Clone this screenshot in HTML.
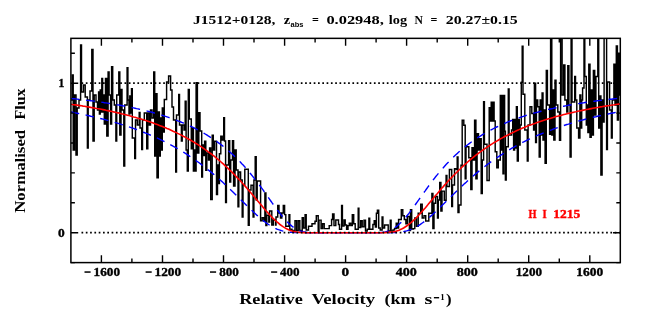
<!DOCTYPE html>
<html><head><meta charset="utf-8"><title>plot</title><style>
html,body{margin:0;padding:0;background:#fff}
body{width:654px;height:327px;overflow:hidden}
svg{display:block}
text{fill:#000;font-family:"Liberation Serif",serif;font-weight:bold}
.tk{font-size:12px;stroke:#000;stroke-width:.35px}
.ti{font-size:12.8px}
.sub{font-size:7.5px;font-family:"Liberation Sans",sans-serif}
.sup{font-size:9px}
.xl{font-size:15.2px}
.hl{font-size:12px;fill:#ff0000;stroke:#ff0000;stroke-width:.4px}
</style></head><body>
<svg width="654" height="327" viewBox="0 0 654 327" style="will-change:transform">
<rect width="100%" height="100%" fill="#fff"/>
<clipPath id="c"><rect x="70.9" y="38.4" width="549.4" height="224.3"/></clipPath>
<path d="M71.0 100.0 H72.2 V75.0 H73.2 V150.0 H74.5 V95.0 H76.0 V155.0 H77.2 V108.0 H79.0 V100.0 H80.6 V45.0 H81.5 V92.0 H83.5 V85.0 H85.2 V97.0 H87.4 V148.0 H88.2 V100.0 H90.0 V91.0 H91.8 V49.5 H93.0 V141.0 H94.2 V95.0 H96.0 V102.0 H97.5 V110.0 H98.6 V92.0 H99.4 V114.0 H100.2 V90.0 H101.0 V112.0 H101.8 V78.5 H102.6 V112.0 H103.3 V95.0 H104.3 V124.0 H105.5 V78.5 H106.8 V136.0 H108.1 V72.0 H109.1 V95.0 H110.6 V124.0 H111.6 V66.7 H112.7 V100.0 H114.3 V105.0 H115.9 V141.0 H116.7 V95.0 H118.8 V72.0 H119.8 V135.0 H121.0 V89.4 H122.0 V110.0 H123.8 V166.0 H124.7 V105.0 H127.1 V67.6 H127.9 V100.0 H129.0 V114.0 H129.8 V96.0 H130.6 V113.0 H131.5 V88.6 H132.3 V138.0 H134.7 V158.5 H135.5 V120.0 H137.3 V125.0 H139.2 V112.5 H140.0 V128.0 H141.7 V149.5 H142.5 V120.0 H144.3 V113.0 H146.7 V148.7 H147.8 V113.0 H149.3 V125.0 H150.5 V110.0 H152.0 V118.0 H153.7 V72.0 H154.7 V156.0 H155.9 V93.6 H157.0 V177.7 H158.3 V112.0 H159.4 V156.0 H160.3 V118.0 H161.3 V150.0 H162.3 V108.0 H163.4 V132.0 H164.3 V99.5 H166.6 V82.0 H168.6 V76.0 H170.6 V90.0 H172.0 V107.0 H173.5 V120.0 H175.7 V172.0 H176.5 V115.0 H178.7 V94.5 H179.5 V125.0 H181.4 V141.0 H182.2 V125.0 H184.0 V130.0 H185.2 V101.2 H186.1 V150.0 H187.3 V171.0 H188.3 V89.4 H189.3 V119.0 H191.3 V148.7 H192.1 V128.0 H193.4 V171.0 H194.2 V150.0 H195.1 V171.0 H196.1 V82.7 H197.4 V153.0 H198.8 V112.6 H200.0 V131.0 H201.7 V176.9 H202.5 V145.0 H203.6 V155.5 H204.6 V141.2 H205.8 V170.2 H206.8 V153.0 H208.5 V160.0 H209.6 V148.0 H210.7 V199.5 H212.2 V135.3 H213.3 V150.0 H214.6 V141.2 H216.5 V194.5 H217.5 V165.0 H218.6 V183.6 H219.4 V153.8 H220.8 V136.1 H222.2 V140.0 H223.7 V117.6 H224.5 V141.0 H225.6 V202.4 H226.4 V165.0 H228.6 V140.8 H229.7 V182.0 H230.7 V160.0 H232.5 V140.8 H233.6 V186.0 H235.0 V150.0 H236.2 V170.0 H238.0 V206.8 H238.8 V172.0 H240.6 V180.0 H242.2 V216.9 H243.0 V185.0 H244.8 V169.3 H248.3 V225.3 H249.2 V190.0 H251.0 V185.3 H253.1 V216.9 H253.9 V180.0 H255.2 V156.7 H256.2 V200.0 H257.2 V181.0 H260.6 V220.7 H262.2 V217.6 H263.8 V221.0 H264.9 V192.9 H265.9 V225.6 H266.8 V215.2 H268.8 V222.0 H269.6 V210.9 H271.8 V225.0 H273.3 V220.0 H275.5 V225.0 H276.0 V217.0 H277.7 V205.4 H279.0 V213.0 H280.5 V218.0 H281.8 V213.0 H283.3 V205.4 H284.6 V214.6 H285.8 V226.2 H289.0 V214.6 H289.8 V229.3 H292.0 V230.5 H295.0 V220.7 H296.6 V230.5 H298.2 V220.7 H299.8 V230.5 H302.2 V217.6 H303.4 V228.0 H305.1 V214.6 H306.2 V229.9 H308.5 V226.2 H312.0 V223.7 H315.0 V221.3 H316.3 V215.8 H318.2 V231.7 H319.0 V220.1 H321.1 V228.6 H322.6 V223.7 H324.2 V228.6 H329.2 V225.6 H331.6 V219.5 H332.6 V214.0 H334.0 V225.6 H335.8 V220.0 H338.5 V224.4 H339.5 V229.3 H341.6 V205.4 H342.4 V226.0 H344.0 V220.0 H345.2 V225.0 H346.6 V229.3 H348.0 V225.6 H349.3 V223.1 H350.8 V225.6 H352.3 V214.6 H353.7 V223.7 H355.2 V229.3 H358.2 V208.2 H358.9 V227.4 H360.7 V220.7 H362.2 V226.8 H364.0 V220.1 H365.5 V231.0 H367.2 V229.3 H368.9 V218.2 H369.7 V229.3 H372.9 V224.4 H374.2 V220.7 H375.4 V227.0 H376.4 V213.3 H377.4 V210.3 H378.7 V228.0 H380.2 V229.9 H382.1 V217.0 H382.9 V228.0 H384.6 V225.0 H388.2 V231.0 H390.3 V220.1 H391.1 V231.0 H393.0 V229.9 H394.5 V228.6 H396.2 V223.1 H397.4 V228.0 H398.6 V219.5 H401.3 V209.7 H402.8 V215.8 H404.3 V219.5 H405.9 V223.7 H407.4 V216.4 H409.4 V230.5 H410.5 V209.7 H411.7 V229.0 H413.4 V228.6 H414.8 V217.9 H416.5 V226.3 H418.2 V213.3 H420.7 V204.1 H422.2 V217.9 H424.0 V215.6 H425.7 V221.0 H428.8 V213.3 H431.9 V193.4 H432.9 V228.6 H434.0 V203.3 H435.6 V196.5 H437.5 V217.9 H438.3 V200.0 H439.7 V182.4 H440.9 V211.0 H442.0 V191.1 H444.3 V200.3 H446.1 V175.5 H446.9 V186.5 H449.4 V169.4 H451.7 V206.4 H452.5 V185.0 H454.5 V168.6 H456.1 V169.5 H457.2 V156.9 H458.0 V212.5 H459.0 V204.9 H461.0 V165.3 H462.2 V120.3 H463.8 V125.3 H465.2 V178.7 H466.0 V146.8 H468.8 V157.7 H470.8 V189.6 H472.0 V147.6 H473.4 V160.0 H474.6 V120.3 H475.9 V178.7 H477.1 V133.7 H478.5 V150.0 H479.9 V138.8 H481.2 V193.4 H482.3 V160.0 H483.6 V101.8 H484.4 V144.3 H487.0 V180.4 H489.2 V107.7 H490.1 V121.0 H491.2 V102.1 H492.2 V121.0 H493.2 V102.1 H494.1 V121.0 H495.2 V151.8 H496.8 V167.8 H498.3 V160.0 H500.3 V95.4 H501.2 V150.0 H502.1 V95.4 H503.0 V173.7 H503.8 V95.4 H504.6 V131.2 H505.4 V180.0 H506.2 V146.8 H508.3 V89.0 H509.1 V135.0 H511.6 V130.0 H512.7 V119.4 H513.6 V150.0 H514.6 V119.4 H515.5 V148.0 H516.4 V106.8 H517.3 V161.0 H518.3 V119.4 H519.3 V145.0 H520.1 V125.0 H521.3 V82.3 H522.2 V46.1 H523.0 V94.2 H524.8 V130.0 H527.3 V161.0 H528.1 V125.0 H530.0 V106.8 H531.8 V113.5 H533.6 V130.0 H534.4 V83.1 H535.6 V142.6 H536.4 V100.0 H537.7 V106.8 H539.2 V156.9 H540.2 V100.0 H541.1 V135.0 H542.1 V93.0 H543.0 V140.0 H544.0 V110.0 H545.1 V163.2 H546.3 V70.4 H547.4 V105.0 H549.6 V134.2 H550.6 V30.0 H551.8 V135.0 H552.8 V90.0 H553.8 V140.0 H555.0 V80.3 H556.0 V105.0 H557.8 V112.0 H559.5 V140.3 H560.6 V30.0 H562.1 V95.0 H563.7 V65.0 H564.9 V100.0 H566.8 V112.0 H567.8 V65.8 H568.9 V105.0 H570.1 V157.1 H571.1 V30.0 H572.0 V102.0 H574.7 V76.5 H575.5 V100.0 H576.8 V128.0 H578.6 V138.0 H579.9 V95.0 H580.8 V128.0 H581.7 V100.0 H582.6 V88.0 H584.0 V30.0 H584.8 V76.5 H586.3 V125.0 H587.1 V105.0 H587.9 V132.6 H588.8 V64.3 H590.0 V137.2 H591.2 V90.0 H592.3 V135.0 H593.4 V70.4 H594.7 V115.0 H595.9 V76.5 H597.8 V30.0 H598.7 V128.0 H599.8 V96.0 H600.9 V174.9 H602.1 V100.0 H603.2 V122.0 H604.1 V30.0 H606.6 V149.5 H607.4 V81.9 H609.6 V110.0 H611.4 V138.0 H612.2 V100.0 H613.9 V64.3 H615.0 V105.0 H616.3 V45.9 H617.4 V120.0 H618.5 V54.3 H619.3 V95.0 H621.0 V95.0" fill="none" stroke="#000" stroke-width="1.45" stroke-linejoin="miter" clip-path="url(#c)"/>
<path d="M70.9 98.4 L72.4 98.6 L74.0 98.7 L75.5 98.9 L77.0 99.1 L78.5 99.3 L80.1 99.4 L81.6 99.6 L83.1 99.8 L84.6 100.0 L86.2 100.2 L87.7 100.4 L89.2 100.5 L90.7 100.7 L92.3 100.9 L93.8 101.1 L95.3 101.4 L96.8 101.6 L98.4 101.8 L99.9 102.0 L101.4 102.2 L102.9 102.4 L104.5 102.7 L106.0 102.9 L107.5 103.1 L109.1 103.4 L110.6 103.6 L112.1 103.9 L113.6 104.1 L115.2 104.4 L116.7 104.7 L118.2 104.9 L119.7 105.2 L121.3 105.5 L122.8 105.8 L124.3 106.0 L125.8 106.3 L127.4 106.6 L128.9 106.9 L130.4 107.3 L131.9 107.6 L133.5 107.9 L135.0 108.2 L136.5 108.6 L138.0 108.9 L139.6 109.3 L141.1 109.6 L142.6 110.0 L144.2 110.3 L145.7 110.7 L147.2 111.1 L148.7 111.5 L150.3 111.9 L151.8 112.3 L153.3 112.7 L154.8 113.2 L156.4 113.6 L157.9 114.0 L159.4 114.5 L160.9 114.9 L162.5 115.4 L164.0 115.9 L165.5 116.4 L167.0 116.9 L168.6 117.4 L170.1 117.9 L171.6 118.5 L173.1 119.0 L174.7 119.6 L176.2 120.2 L177.7 120.8 L179.3 121.4 L180.8 122.0 L182.3 122.6 L183.8 123.2 L185.4 123.9 L186.9 124.6 L188.4 125.3 L189.9 126.0 L191.5 126.7 L193.0 127.4 L194.5 128.2 L196.0 129.0 L197.6 129.8 L199.1 130.6 L200.6 131.4 L202.1 132.3 L203.7 133.1 L205.2 134.0 L206.7 134.9 L208.2 135.9 L209.8 136.8 L211.3 137.8 L212.8 138.8 L214.4 139.9 L215.9 140.9 L217.4 142.0 L218.9 143.1 L220.5 144.3 L222.0 145.4 L223.5 146.6 L225.0 147.9 L226.6 149.1 L228.1 150.4 L229.6 151.8 L231.1 153.1 L232.7 154.5 L234.2 155.9 L235.7 157.4 L237.2 158.9 L238.8 160.5 L240.3 162.0 L241.8 163.7 L243.4 165.3 L244.9 167.0 L246.4 168.7 L247.9 170.5 L249.5 172.3 L251.0 174.2 L252.5 176.1 L254.0 178.0 L255.6 179.9 L257.1 181.9 L258.6 184.0 L260.1 186.0 L261.7 188.1 L263.2 190.2 L264.7 192.4 L266.2 194.5 L267.8 196.7 L269.3 198.9 L270.8 201.0 L272.3 203.2 L273.9 205.3 L275.4 207.4 L276.9 209.5 L278.5 211.5 L280.0 213.5 L281.5 215.4 L283.0 217.3 L284.6 219.0 L286.1 220.7 L287.6 222.3 L289.1 223.8 L290.7 225.1 L292.2 226.4 L293.7 227.5 L295.2 228.5 L296.8 229.4 L298.3 230.2 L299.8 230.8 L301.3 231.3 L302.9 231.7 L304.4 232.0 L305.9 232.3 L307.4 232.4 L309.0 232.6 L310.5 232.6 L312.0 232.7 L313.6 232.7 L315.1 232.7 L316.6 232.7 L318.1 232.7 L319.7 232.7 L321.2 232.7 L322.7 232.7 L324.2 232.7 L325.8 232.7 L327.3 232.7 L328.8 232.7 L330.3 232.7 L331.9 232.7 L333.4 232.7 L334.9 232.7 L336.4 232.7 L338.0 232.7 L339.5 232.7 L341.0 232.7 L342.5 232.7 L344.1 232.7" fill="none" stroke="#0000ff" stroke-width="1.4" stroke-dasharray="8.7 6.65"/>
<path d="M344.1 232.7 L345.6 232.7 L347.1 232.7 L348.7 232.7 L350.2 232.7 L351.7 232.7 L353.2 232.7 L354.8 232.7 L356.3 232.7 L357.8 232.7 L359.3 232.7 L360.9 232.7 L362.4 232.7 L363.9 232.7 L365.4 232.7 L367.0 232.7 L368.5 232.7 L370.0 232.7 L371.5 232.7 L373.1 232.7 L374.6 232.7 L376.1 232.7 L377.6 232.6 L379.2 232.6 L380.7 232.5 L382.2 232.4 L383.8 232.1 L385.3 231.9 L386.8 231.5 L388.3 231.0 L389.9 230.4 L391.4 229.7 L392.9 228.9 L394.4 227.9 L396.0 226.9 L397.5 225.7 L399.0 224.3 L400.5 222.9 L402.1 221.4 L403.6 219.7 L405.1 218.0 L406.6 216.2 L408.2 214.3 L409.7 212.3 L411.2 210.3 L412.7 208.2 L414.3 206.1 L415.8 204.0 L417.3 201.9 L418.9 199.7 L420.4 197.6 L421.9 195.4 L423.4 193.2 L425.0 191.1 L426.5 189.0 L428.0 186.9 L429.5 184.8 L431.1 182.8 L432.6 180.7 L434.1 178.8 L435.6 176.8 L437.2 174.9 L438.7 173.1 L440.2 171.2 L441.7 169.4 L443.3 167.7 L444.8 166.0 L446.3 164.3 L447.8 162.7 L449.4 161.1 L450.9 159.5 L452.4 158.0 L454.0 156.5 L455.5 155.1 L457.0 153.7 L458.5 152.3 L460.1 151.0 L461.6 149.7 L463.1 148.4 L464.6 147.1 L466.2 145.9 L467.7 144.7 L469.2 143.6 L470.7 142.5 L472.3 141.4 L473.8 140.3 L475.3 139.2 L476.8 138.2 L478.4 137.2 L479.9 136.3 L481.4 135.3 L482.9 134.4 L484.5 133.5 L486.0 132.6 L487.5 131.7 L489.1 130.9 L490.6 130.1 L492.1 129.3 L493.6 128.5 L495.2 127.7 L496.7 127.0 L498.2 126.3 L499.7 125.5 L501.3 124.9 L502.8 124.2 L504.3 123.5 L505.8 122.9 L507.4 122.2 L508.9 121.6 L510.4 121.0 L511.9 120.4 L513.5 119.8 L515.0 119.3 L516.5 118.7 L518.1 118.2 L519.6 117.6 L521.1 117.1 L522.6 116.6 L524.2 116.1 L525.7 115.6 L527.2 115.1 L528.7 114.7 L530.3 114.2 L531.8 113.8 L533.3 113.3 L534.8 112.9 L536.4 112.5 L537.9 112.1 L539.4 111.7 L540.9 111.3 L542.5 110.9 L544.0 110.5 L545.5 110.1 L547.0 109.8 L548.6 109.4 L550.1 109.0 L551.6 108.7 L553.2 108.4 L554.7 108.0 L556.2 107.7 L557.7 107.4 L559.3 107.1 L560.8 106.8 L562.3 106.5 L563.8 106.2 L565.4 105.9 L566.9 105.6 L568.4 105.3 L569.9 105.0 L571.5 104.8 L573.0 104.5 L574.5 104.2 L576.0 104.0 L577.6 103.7 L579.1 103.5 L580.6 103.2 L582.1 103.0 L583.7 102.8 L585.2 102.5 L586.7 102.3 L588.3 102.1 L589.8 101.9 L591.3 101.6 L592.8 101.4 L594.4 101.2 L595.9 101.0 L597.4 100.8 L598.9 100.6 L600.5 100.4 L602.0 100.2 L603.5 100.0 L605.0 99.9 L606.6 99.7 L608.1 99.5 L609.6 99.3 L611.1 99.2 L612.7 99.0 L614.2 98.8 L615.7 98.6 L617.2 98.5 L618.8 98.3 L620.3 98.2" fill="none" stroke="#0000ff" stroke-width="1.4" stroke-dasharray="8.7 6.65" stroke-dashoffset="9.89"/>
<path d="M70.9 112.0 L72.4 112.3 L74.0 112.6 L75.5 112.9 L77.0 113.2 L78.5 113.5 L80.1 113.8 L81.6 114.2 L83.1 114.5 L84.6 114.8 L86.2 115.1 L87.7 115.5 L89.2 115.8 L90.7 116.2 L92.3 116.5 L93.8 116.9 L95.3 117.2 L96.8 117.6 L98.4 118.0 L99.9 118.4 L101.4 118.7 L102.9 119.1 L104.5 119.5 L106.0 119.9 L107.5 120.3 L109.1 120.8 L110.6 121.2 L112.1 121.6 L113.6 122.0 L115.2 122.5 L116.7 122.9 L118.2 123.4 L119.7 123.9 L121.3 124.3 L122.8 124.8 L124.3 125.3 L125.8 125.8 L127.4 126.3 L128.9 126.8 L130.4 127.3 L131.9 127.9 L133.5 128.4 L135.0 129.0 L136.5 129.5 L138.0 130.1 L139.6 130.7 L141.1 131.3 L142.6 131.9 L144.2 132.5 L145.7 133.1 L147.2 133.7 L148.7 134.3 L150.3 135.0 L151.8 135.6 L153.3 136.3 L154.8 137.0 L156.4 137.7 L157.9 138.4 L159.4 139.1 L160.9 139.8 L162.5 140.6 L164.0 141.3 L165.5 142.1 L167.0 142.9 L168.6 143.7 L170.1 144.5 L171.6 145.3 L173.1 146.2 L174.7 147.0 L176.2 147.9 L177.7 148.8 L179.3 149.7 L180.8 150.6 L182.3 151.5 L183.8 152.4 L185.4 153.4 L186.9 154.4 L188.4 155.4 L189.9 156.4 L191.5 157.4 L193.0 158.5 L194.5 159.5 L196.0 160.6 L197.6 161.7 L199.1 162.8 L200.6 163.9 L202.1 165.1 L203.7 166.2 L205.2 167.4 L206.7 168.6 L208.2 169.9 L209.8 171.1 L211.3 172.4 L212.8 173.6 L214.4 174.9 L215.9 176.2 L217.4 177.6 L218.9 178.9 L220.5 180.3 L222.0 181.6 L223.5 183.0 L225.0 184.4 L226.6 185.9 L228.1 187.3 L229.6 188.8 L231.1 190.2 L232.7 191.7 L234.2 193.2 L235.7 194.7 L237.2 196.2 L238.8 197.7 L240.3 199.2 L241.8 200.7 L243.4 202.2 L244.9 203.7 L246.4 205.2 L247.9 206.7 L249.5 208.2 L251.0 209.7 L252.5 211.1 L254.0 212.6 L255.6 214.0 L257.1 215.4 L258.6 216.7 L260.1 218.1 L261.7 219.3 L263.2 220.6 L264.7 221.8 L266.2 222.9 L267.8 224.0 L269.3 225.0 L270.8 225.9 L272.3 226.8 L273.9 227.6 L275.4 228.4 L276.9 229.1 L278.5 229.7 L280.0 230.2 L281.5 230.7 L283.0 231.1 L284.6 231.4 L286.1 231.7 L287.6 232.0 L289.1 232.2 L290.7 232.3 L292.2 232.4 L293.7 232.5 L295.2 232.6 L296.8 232.6 L298.3 232.7 L299.8 232.7 L301.3 232.7 L302.9 232.7 L304.4 232.7 L305.9 232.7 L307.4 232.7 L309.0 232.7 L310.5 232.7 L312.0 232.7 L313.6 232.7 L315.1 232.7 L316.6 232.7 L318.1 232.7 L319.7 232.7 L321.2 232.7 L322.7 232.7 L324.2 232.7 L325.8 232.7 L327.3 232.7 L328.8 232.7 L330.3 232.7 L331.9 232.7 L333.4 232.7 L334.9 232.7 L336.4 232.7 L338.0 232.7 L339.5 232.7 L341.0 232.7 L342.5 232.7 L344.1 232.7" fill="none" stroke="#0000ff" stroke-width="1.4" stroke-dasharray="8.5 6.5"/>
<path d="M344.1 232.7 L345.6 232.7 L347.1 232.7 L348.7 232.7 L350.2 232.7 L351.7 232.7 L353.2 232.7 L354.8 232.7 L356.3 232.7 L357.8 232.7 L359.3 232.7 L360.9 232.7 L362.4 232.7 L363.9 232.7 L365.4 232.7 L367.0 232.7 L368.5 232.7 L370.0 232.7 L371.5 232.7 L373.1 232.7 L374.6 232.7 L376.1 232.7 L377.6 232.7 L379.2 232.7 L380.7 232.7 L382.2 232.7 L383.8 232.7 L385.3 232.7 L386.8 232.7 L388.3 232.7 L389.9 232.7 L391.4 232.6 L392.9 232.6 L394.4 232.5 L396.0 232.5 L397.5 232.4 L399.0 232.2 L400.5 232.1 L402.1 231.8 L403.6 231.6 L405.1 231.2 L406.6 230.9 L408.2 230.4 L409.7 229.9 L411.2 229.3 L412.7 228.7 L414.3 227.9 L415.8 227.2 L417.3 226.3 L418.9 225.4 L420.4 224.4 L421.9 223.3 L423.4 222.2 L425.0 221.1 L426.5 219.8 L428.0 218.6 L429.5 217.3 L431.1 215.9 L432.6 214.6 L434.1 213.1 L435.6 211.7 L437.2 210.3 L438.7 208.8 L440.2 207.3 L441.7 205.8 L443.3 204.3 L444.8 202.8 L446.3 201.3 L447.8 199.8 L449.4 198.3 L450.9 196.8 L452.4 195.3 L454.0 193.8 L455.5 192.3 L457.0 190.8 L458.5 189.3 L460.1 187.9 L461.6 186.4 L463.1 185.0 L464.6 183.6 L466.2 182.2 L467.7 180.8 L469.2 179.4 L470.7 178.1 L472.3 176.8 L473.8 175.4 L475.3 174.1 L476.8 172.9 L478.4 171.6 L479.9 170.3 L481.4 169.1 L482.9 167.9 L484.5 166.7 L486.0 165.5 L487.5 164.4 L489.1 163.3 L490.6 162.1 L492.1 161.0 L493.6 159.9 L495.2 158.9 L496.7 157.8 L498.2 156.8 L499.7 155.8 L501.3 154.8 L502.8 153.8 L504.3 152.8 L505.8 151.9 L507.4 150.9 L508.9 150.0 L510.4 149.1 L511.9 148.2 L513.5 147.4 L515.0 146.5 L516.5 145.7 L518.1 144.8 L519.6 144.0 L521.1 143.2 L522.6 142.4 L524.2 141.7 L525.7 140.9 L527.2 140.1 L528.7 139.4 L530.3 138.7 L531.8 138.0 L533.3 137.3 L534.8 136.6 L536.4 135.9 L537.9 135.2 L539.4 134.6 L540.9 134.0 L542.5 133.3 L544.0 132.7 L545.5 132.1 L547.0 131.5 L548.6 130.9 L550.1 130.3 L551.6 129.8 L553.2 129.2 L554.7 128.6 L556.2 128.1 L557.7 127.6 L559.3 127.0 L560.8 126.5 L562.3 126.0 L563.8 125.5 L565.4 125.0 L566.9 124.5 L568.4 124.1 L569.9 123.6 L571.5 123.1 L573.0 122.7 L574.5 122.2 L576.0 121.8 L577.6 121.4 L579.1 120.9 L580.6 120.5 L582.1 120.1 L583.7 119.7 L585.2 119.3 L586.7 118.9 L588.3 118.5 L589.8 118.1 L591.3 117.7 L592.8 117.4 L594.4 117.0 L595.9 116.7 L597.4 116.3 L598.9 115.9 L600.5 115.6 L602.0 115.3 L603.5 114.9 L605.0 114.6 L606.6 114.3 L608.1 114.0 L609.6 113.6 L611.1 113.3 L612.7 113.0 L614.2 112.7 L615.7 112.4 L617.2 112.1 L618.8 111.9 L620.3 111.6" fill="none" stroke="#0000ff" stroke-width="1.4" stroke-dasharray="8.5 6.5" stroke-dashoffset="0.76"/>
<path d="M70.9 104.2 L72.4 104.5 L74.0 104.7 L75.5 104.9 L77.0 105.1 L78.5 105.4 L80.1 105.6 L81.6 105.8 L83.1 106.1 L84.6 106.3 L86.2 106.6 L87.7 106.8 L89.2 107.1 L90.7 107.4 L92.3 107.6 L93.8 107.9 L95.3 108.2 L96.8 108.5 L98.4 108.7 L99.9 109.0 L101.4 109.3 L102.9 109.6 L104.5 109.9 L106.0 110.3 L107.5 110.6 L109.1 110.9 L110.6 111.2 L112.1 111.5 L113.6 111.9 L115.2 112.2 L116.7 112.6 L118.2 112.9 L119.7 113.3 L121.3 113.7 L122.8 114.0 L124.3 114.4 L125.8 114.8 L127.4 115.2 L128.9 115.6 L130.4 116.0 L131.9 116.4 L133.5 116.9 L135.0 117.3 L136.5 117.7 L138.0 118.2 L139.6 118.6 L141.1 119.1 L142.6 119.6 L144.2 120.0 L145.7 120.5 L147.2 121.0 L148.7 121.5 L150.3 122.1 L151.8 122.6 L153.3 123.1 L154.8 123.7 L156.4 124.2 L157.9 124.8 L159.4 125.4 L160.9 126.0 L162.5 126.6 L164.0 127.2 L165.5 127.8 L167.0 128.5 L168.6 129.1 L170.1 129.8 L171.6 130.5 L173.1 131.2 L174.7 131.9 L176.2 132.6 L177.7 133.4 L179.3 134.1 L180.8 134.9 L182.3 135.7 L183.8 136.5 L185.4 137.3 L186.9 138.1 L188.4 139.0 L189.9 139.8 L191.5 140.7 L193.0 141.6 L194.5 142.5 L196.0 143.5 L197.6 144.4 L199.1 145.4 L200.6 146.4 L202.1 147.4 L203.7 148.5 L205.2 149.6 L206.7 150.6 L208.2 151.8 L209.8 152.9 L211.3 154.0 L212.8 155.2 L214.4 156.4 L215.9 157.7 L217.4 158.9 L218.9 160.2 L220.5 161.5 L222.0 162.8 L223.5 164.2 L225.0 165.6 L226.6 167.0 L228.1 168.4 L229.6 169.9 L231.1 171.3 L232.7 172.9 L234.2 174.4 L235.7 176.0 L237.2 177.6 L238.8 179.2 L240.3 180.8 L241.8 182.5 L243.4 184.2 L244.9 185.9 L246.4 187.6 L247.9 189.4 L249.5 191.2 L251.0 192.9 L252.5 194.7 L254.0 196.6 L255.6 198.4 L257.1 200.2 L258.6 202.0 L260.1 203.8 L261.7 205.6 L263.2 207.4 L264.7 209.2 L266.2 211.0 L267.8 212.7 L269.3 214.4 L270.8 216.0 L272.3 217.6 L273.9 219.1 L275.4 220.5 L276.9 221.9 L278.5 223.2 L280.0 224.5 L281.5 225.6 L283.0 226.7 L284.6 227.6 L286.1 228.5 L287.6 229.2 L289.1 229.9 L290.7 230.5 L292.2 231.0 L293.7 231.4 L295.2 231.7 L296.8 232.0 L298.3 232.2 L299.8 232.4 L301.3 232.5 L302.9 232.6 L304.4 232.6 L305.9 232.7 L307.4 232.7 L309.0 232.7 L310.5 232.7 L312.0 232.7 L313.6 232.7 L315.1 232.7 L316.6 232.7 L318.1 232.7 L319.7 232.7 L321.2 232.7 L322.7 232.7 L324.2 232.7 L325.8 232.7 L327.3 232.7 L328.8 232.7 L330.3 232.7 L331.9 232.7 L333.4 232.7 L334.9 232.7 L336.4 232.7 L338.0 232.7 L339.5 232.7 L341.0 232.7 L342.5 232.7 L344.1 232.7 L345.6 232.7 L347.1 232.7 L348.7 232.7 L350.2 232.7 L351.7 232.7 L353.2 232.7 L354.8 232.7 L356.3 232.7 L357.8 232.7 L359.3 232.7 L360.9 232.7 L362.4 232.7 L363.9 232.7 L365.4 232.7 L367.0 232.7 L368.5 232.7 L370.0 232.7 L371.5 232.7 L373.1 232.7 L374.6 232.7 L376.1 232.7 L377.6 232.7 L379.2 232.7 L380.7 232.7 L382.2 232.7 L383.8 232.6 L385.3 232.6 L386.8 232.5 L388.3 232.4 L389.9 232.3 L391.4 232.1 L392.9 231.9 L394.4 231.6 L396.0 231.2 L397.5 230.7 L399.0 230.2 L400.5 229.5 L402.1 228.8 L403.6 228.0 L405.1 227.0 L406.6 226.0 L408.2 224.9 L409.7 223.7 L411.2 222.5 L412.7 221.1 L414.3 219.7 L415.8 218.2 L417.3 216.6 L418.9 215.0 L420.4 213.4 L421.9 211.7 L423.4 209.9 L425.0 208.2 L426.5 206.4 L428.0 204.6 L429.5 202.7 L431.1 200.9 L432.6 199.1 L434.1 197.3 L435.6 195.5 L437.2 193.7 L438.7 191.9 L440.2 190.1 L441.7 188.3 L443.3 186.6 L444.8 184.9 L446.3 183.2 L447.8 181.5 L449.4 179.8 L450.9 178.2 L452.4 176.6 L454.0 175.0 L455.5 173.5 L457.0 172.0 L458.5 170.5 L460.1 169.0 L461.6 167.5 L463.1 166.1 L464.6 164.7 L466.2 163.4 L467.7 162.0 L469.2 160.7 L470.7 159.4 L472.3 158.2 L473.8 156.9 L475.3 155.7 L476.8 154.5 L478.4 153.3 L479.9 152.2 L481.4 151.1 L482.9 150.0 L484.5 148.9 L486.0 147.9 L487.5 146.8 L489.1 145.8 L490.6 144.8 L492.1 143.9 L493.6 142.9 L495.2 142.0 L496.7 141.1 L498.2 140.2 L499.7 139.3 L501.3 138.4 L502.8 137.6 L504.3 136.8 L505.8 136.0 L507.4 135.2 L508.9 134.4 L510.4 133.7 L511.9 132.9 L513.5 132.2 L515.0 131.5 L516.5 130.8 L518.1 130.1 L519.6 129.4 L521.1 128.7 L522.6 128.1 L524.2 127.5 L525.7 126.8 L527.2 126.2 L528.7 125.6 L530.3 125.0 L531.8 124.5 L533.3 123.9 L534.8 123.4 L536.4 122.8 L537.9 122.3 L539.4 121.8 L540.9 121.2 L542.5 120.7 L544.0 120.2 L545.5 119.8 L547.0 119.3 L548.6 118.8 L550.1 118.4 L551.6 117.9 L553.2 117.5 L554.7 117.0 L556.2 116.6 L557.7 116.2 L559.3 115.8 L560.8 115.4 L562.3 115.0 L563.8 114.6 L565.4 114.2 L566.9 113.8 L568.4 113.4 L569.9 113.1 L571.5 112.7 L573.0 112.4 L574.5 112.0 L576.0 111.7 L577.6 111.3 L579.1 111.0 L580.6 110.7 L582.1 110.4 L583.7 110.1 L585.2 109.8 L586.7 109.5 L588.3 109.2 L589.8 108.9 L591.3 108.6 L592.8 108.3 L594.4 108.0 L595.9 107.7 L597.4 107.5 L598.9 107.2 L600.5 106.9 L602.0 106.7 L603.5 106.4 L605.0 106.2 L606.6 105.9 L608.1 105.7 L609.6 105.5 L611.1 105.2 L612.7 105.0 L614.2 104.8 L615.7 104.5 L617.2 104.3 L618.8 104.1 L620.3 103.9" fill="none" stroke="#ff0000" stroke-width="1.6"/>
<line x1="81.5" y1="232.70" x2="620.3" y2="232.70" stroke="#000" stroke-width="1.7" stroke-dasharray="1.7 2.6"/>
<line x1="81.5" y1="83.20" x2="620.3" y2="83.20" stroke="#000" stroke-width="1.7" stroke-dasharray="1.7 2.6"/>
<rect x="70.9" y="38.35" width="549.4" height="224.25" fill="none" stroke="#000" stroke-width="1.5"/>
<path d="M101.4 38.4 v7.3 M101.4 262.6 v-7.3 M131.9 38.4 v4.0 M131.9 262.6 v-4.0 M162.5 38.4 v7.3 M162.5 262.6 v-7.3 M193.0 38.4 v4.0 M193.0 262.6 v-4.0 M223.5 38.4 v7.3 M223.5 262.6 v-7.3 M254.0 38.4 v4.0 M254.0 262.6 v-4.0 M284.6 38.4 v7.3 M284.6 262.6 v-7.3 M315.1 38.4 v4.0 M315.1 262.6 v-4.0 M345.6 38.4 v7.3 M345.6 262.6 v-7.3 M376.1 38.4 v4.0 M376.1 262.6 v-4.0 M406.6 38.4 v7.3 M406.6 262.6 v-7.3 M437.2 38.4 v4.0 M437.2 262.6 v-4.0 M467.7 38.4 v7.3 M467.7 262.6 v-7.3 M498.2 38.4 v4.0 M498.2 262.6 v-4.0 M528.7 38.4 v7.3 M528.7 262.6 v-7.3 M559.3 38.4 v4.0 M559.3 262.6 v-4.0 M589.8 38.4 v7.3 M589.8 262.6 v-7.3 M70.9 262.6 h4.0 M620.3 262.6 h-4.0 M70.9 232.7 h7.3 M620.3 232.7 h-7.3 M70.9 202.8 h4.0 M620.3 202.8 h-4.0 M70.9 172.9 h4.0 M620.3 172.9 h-4.0 M70.9 143.0 h4.0 M620.3 143.0 h-4.0 M70.9 113.1 h4.0 M620.3 113.1 h-4.0 M70.9 83.2 h7.3 M620.3 83.2 h-7.3 M70.9 53.3 h4.0 M620.3 53.3 h-4.0" stroke="#000" stroke-width="1.4" fill="none"/>
<rect x="84.5" y="271.3" width="6.1" height="1.5" fill="#000"/>
<rect x="145.6" y="271.3" width="6.1" height="1.5" fill="#000"/>
<rect x="210.0" y="271.3" width="6.1" height="1.5" fill="#000"/>
<rect x="271.1" y="271.3" width="6.1" height="1.5" fill="#000"/>
<text x="93.6" y="276.2" textLength="26.4" lengthAdjust="spacingAndGlyphs" class="tk">1600</text>
<text x="154.5" y="276.2" textLength="26.7" lengthAdjust="spacingAndGlyphs" class="tk">1200</text>
<text x="219.2" y="276.2" textLength="19.7" lengthAdjust="spacingAndGlyphs" class="tk">800</text>
<text x="280.0" y="276.2" textLength="19.6" lengthAdjust="spacingAndGlyphs" class="tk">400</text>
<text x="341.6" y="276.2" textLength="7.6" lengthAdjust="spacingAndGlyphs" class="tk">0</text>
<text x="395.8" y="276.2" textLength="21.1" lengthAdjust="spacingAndGlyphs" class="tk">400</text>
<text x="456.7" y="276.2" textLength="21.1" lengthAdjust="spacingAndGlyphs" class="tk">800</text>
<text x="515.8" y="276.2" textLength="26.2" lengthAdjust="spacingAndGlyphs" class="tk">1200</text>
<text x="576.3" y="276.2" textLength="26.8" lengthAdjust="spacingAndGlyphs" class="tk">1600</text>
<text x="58.6" y="87.2" textLength="5.8" lengthAdjust="spacingAndGlyphs" class="tk">1</text>
<text x="58.1" y="236.6" textLength="6.7" lengthAdjust="spacingAndGlyphs" class="tk">0</text>
<text x="193.0" y="23.8" textLength="82.3" lengthAdjust="spacingAndGlyphs" class="ti">J1512+0128,</text>
<text x="283.8" y="23.8" textLength="6.5" lengthAdjust="spacingAndGlyphs" class="ti">z</text>
<text x="290.6" y="27.0" textLength="12.9" lengthAdjust="spacingAndGlyphs" class="sub">abs</text>
<text x="311.9" y="23.8" textLength="6.9" lengthAdjust="spacingAndGlyphs" class="ti">=</text>
<text x="326.4" y="23.8" textLength="57.4" lengthAdjust="spacingAndGlyphs" class="ti">0.02948,</text>
<text x="388.8" y="23.8" textLength="18.3" lengthAdjust="spacingAndGlyphs" class="ti">log</text>
<text x="414.6" y="23.8" textLength="8.4" lengthAdjust="spacingAndGlyphs" class="ti">N</text>
<text x="430.6" y="23.8" textLength="6.9" lengthAdjust="spacingAndGlyphs" class="ti">=</text>
<text x="445.8" y="23.8" textLength="72.0" lengthAdjust="spacingAndGlyphs" class="ti">20.27±0.15</text>
<text x="239.2" y="303.6" textLength="63.6" lengthAdjust="spacingAndGlyphs" class="xl">Relative</text>
<text x="311.5" y="303.6" textLength="63.5" lengthAdjust="spacingAndGlyphs" class="xl">Velocity</text>
<text x="384.4" y="303.6" textLength="31.1" lengthAdjust="spacingAndGlyphs" class="xl">(km</text>
<text x="424.5" y="303.6" textLength="7.9" lengthAdjust="spacingAndGlyphs" class="xl">s</text>
<rect x="433.9" y="297.0" width="5.2" height="1.4" fill="#000"/>
<text x="440.2" y="300.4" textLength="4.4" lengthAdjust="spacingAndGlyphs" class="sup">1</text>
<text x="446.0" y="303.6" textLength="5.6" lengthAdjust="spacingAndGlyphs" class="xl">)</text>
<g transform="translate(24.9 0) rotate(-90)">
<text x="-212.8" y="0.0" textLength="83.0" lengthAdjust="spacingAndGlyphs" class="xl">Normalised</text>
<text x="-119.6" y="0.0" textLength="31.2" lengthAdjust="spacingAndGlyphs" class="xl">Flux</text>
</g>
<text x="528.4" y="218.3" textLength="8.0" lengthAdjust="spacingAndGlyphs" class="hl">H</text>
<text x="542.4" y="218.3" textLength="4.2" lengthAdjust="spacingAndGlyphs" class="hl">I</text>
<text x="553.3" y="218.3" textLength="26.9" lengthAdjust="spacingAndGlyphs" class="hl">1215</text>
</svg>
</body></html>
